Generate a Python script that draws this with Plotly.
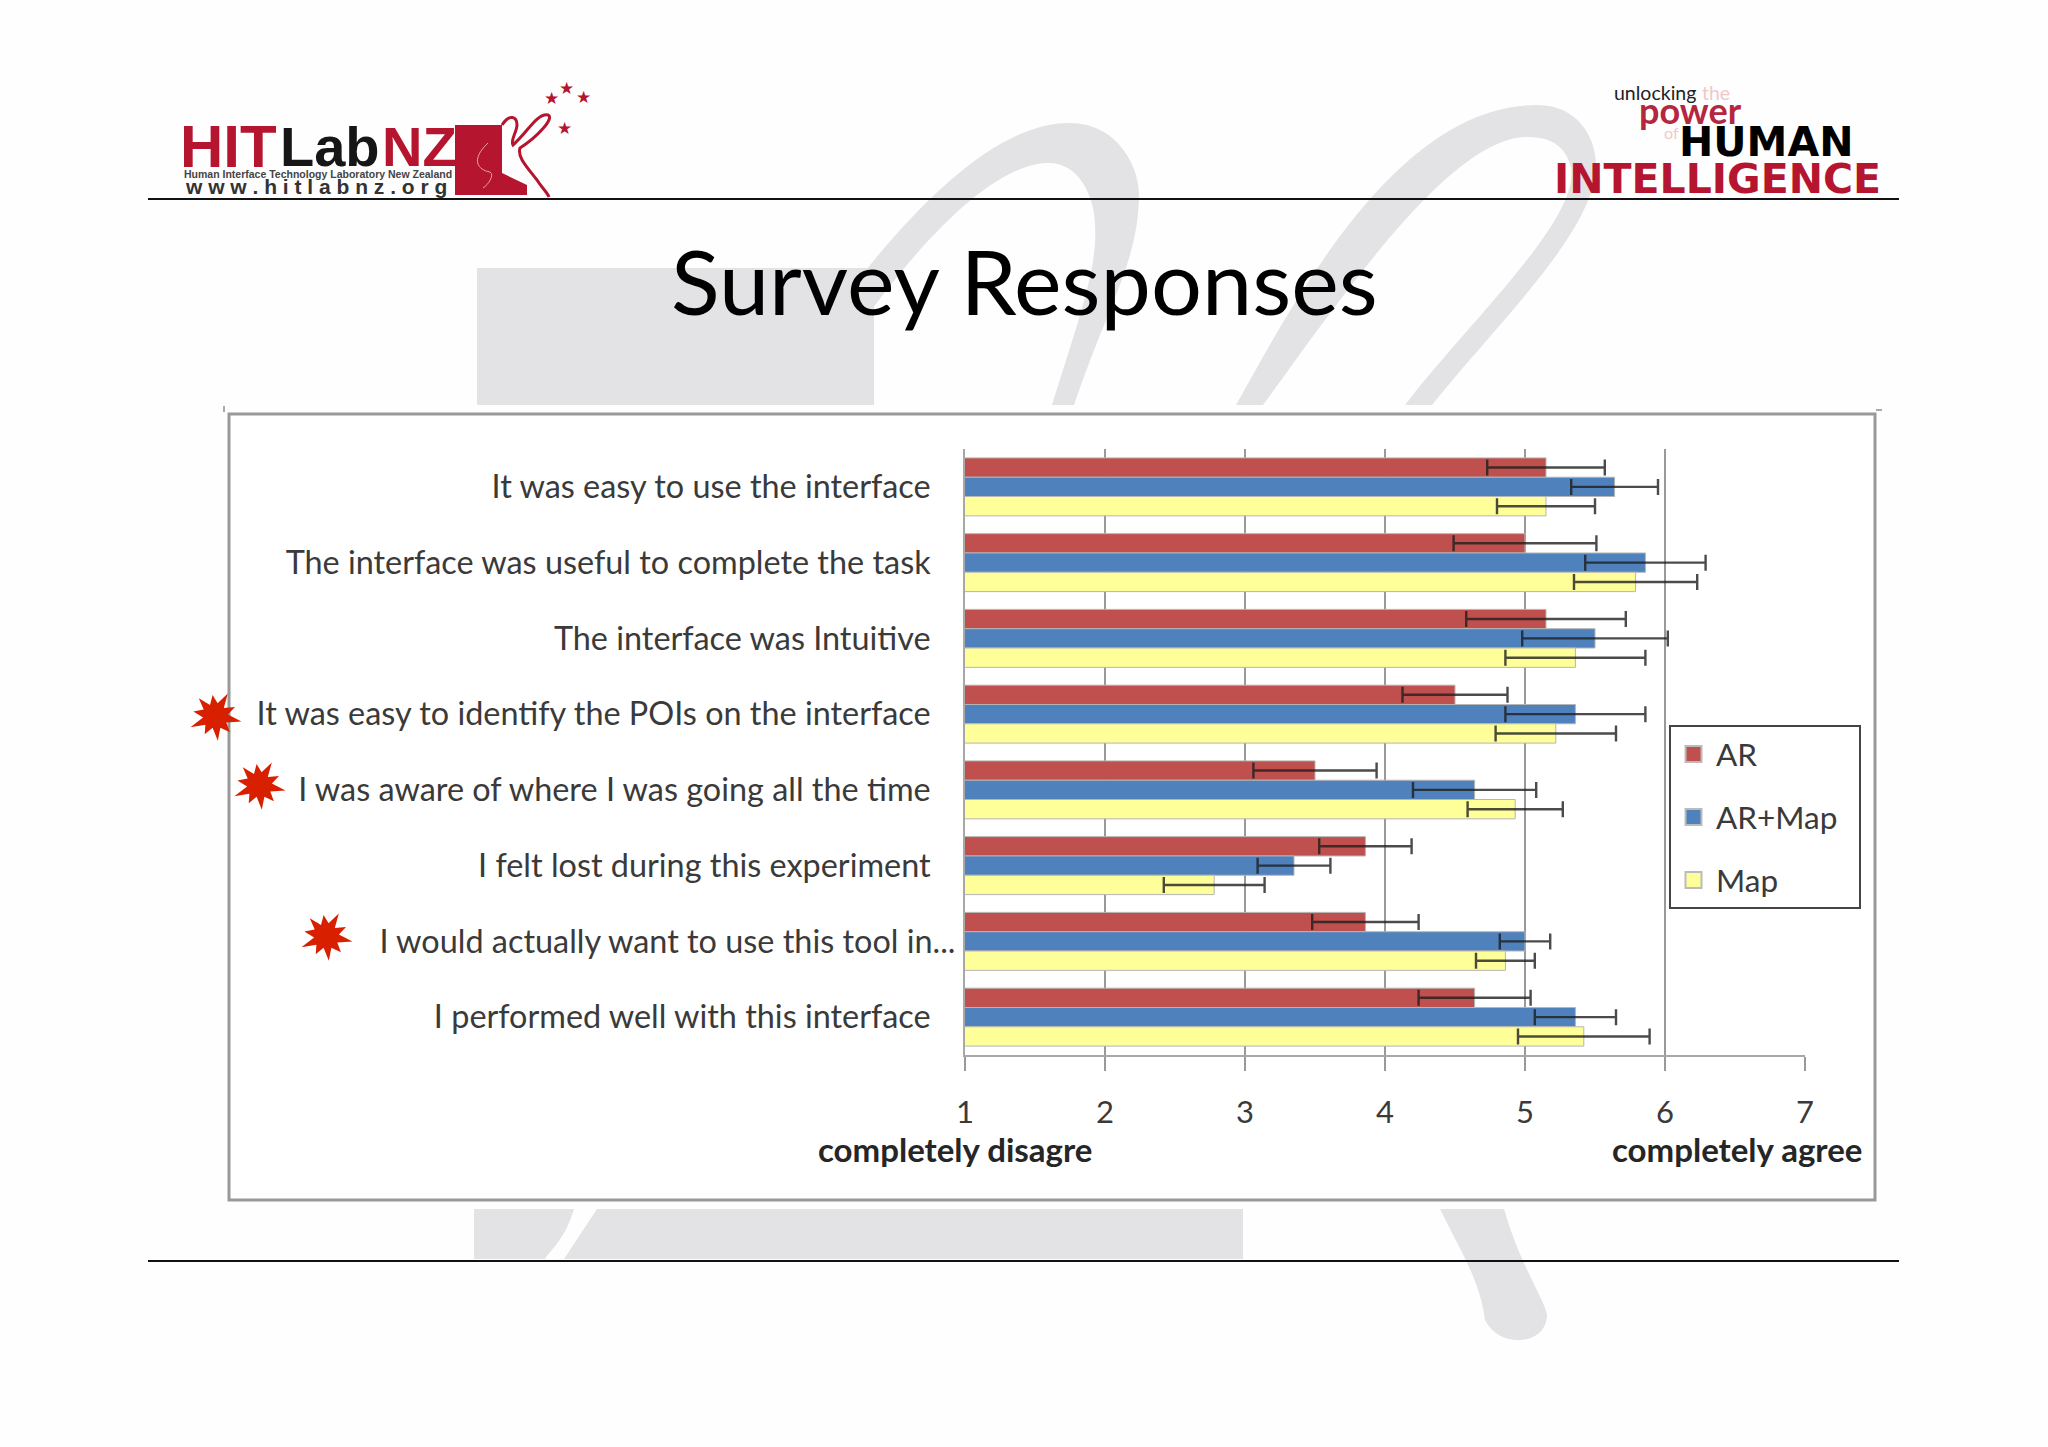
import math
import re
import plotly.graph_objects as go

W, H = 2048, 1447

questions = [
    "It was easy to use the interface",
    "The interface was useful to complete the task",
    "The interface was Intuitive",
    "It was easy to identify the POIs on the interface",
    "I was aware of where I was going all the time",
    "I felt lost during this experiment",
    "I would actually want to use this tool in...",
    "I performed well with this interface",
]
ar_mean = [5.15, 5.0, 5.15, 4.5, 3.5, 3.86, 3.86, 4.64]
ar_err = [0.42, 0.51, 0.57, 0.375, 0.44, 0.33, 0.38, 0.40]
armap_mean = [5.64, 5.86, 5.5, 5.36, 4.64, 3.35, 5.0, 5.36]
armap_err = [0.31, 0.43, 0.52, 0.5, 0.44, 0.26, 0.18, 0.29]
map_mean = [5.15, 5.79, 5.36, 5.22, 4.93, 2.78, 4.86, 5.42]
map_err = [0.35, 0.44, 0.5, 0.43, 0.34, 0.36, 0.21, 0.47]
x_ticks = [1, 2, 3, 4, 5, 6, 7]

AR_COL = "#c0504d"
ARMAP_COL = "#4f81bd"
MAP_COL = "#ffff99"
GREY = "#e3e3e5"
LOGO_RED = "#b5152f"
LABEL_FONT = "Lato"
TEXT_COL = "#3a3a3a"


def fx(x):
    return x / W


def fy(y):
    return 1 - y / H


def px_path(d):
    # path strings below are written in page pixels, shapes want paper units
    return re.sub(
        r"(-?[\d.]+),(-?[\d.]+)",
        lambda m: f"{fx(float(m[1])):.5f},{fy(float(m[2])):.5f}",
        d,
    )


fig = go.Figure()

for name, mean, err, col in [
    ("AR", ar_mean, ar_err, AR_COL),
    ("AR+Map", armap_mean, armap_err, ARMAP_COL),
    ("Map", map_mean, map_err, MAP_COL),
]:
    fig.add_trace(go.Bar(
        y=questions,
        x=mean,
        name=name,
        orientation="h",
        showlegend=False,
        marker=dict(color=col, line=dict(color="#b5b5b5", width=1)),
        error_x=dict(type="data", array=err, color="rgba(30,30,30,0.8)", thickness=2.4, width=8),
    ))
    # bar legend swatches are too small here, so the legend gets its own squares
    # (the nbsp pads the legend box out to its width in the slide)
    fig.add_trace(go.Scatter(
        x=[None],
        y=[None],
        name=name + "\u00a0\u00a0" if name == "AR+Map" else name,
        mode="markers",
        legendgroup=name,
        marker=dict(symbol="square", size=16, color=col, line=dict(color="#bbbbbb", width=2)),
    ))

# every label but the truncated one stops short of the axis
tick_text = [q if q.endswith("...") else q + "\u00a0" * 3 for q in questions]

shapes = [
    dict(type="rect", x0=fx(477), x1=fx(874), y0=fy(268), y1=fy(405)),
    dict(type="path", path=px_path(
        "M820,330 C900,220 990,123 1069,123 C1120,123 1139,170 1139,193 "
        "C1139,260 1110,300 1074,405 L1052,405 C1085,300 1100,260 1094,213 "
        "C1088,180 1070,163 1049,163 C1000,163 930,225 850,340 Z")),
    dict(type="path", path=px_path(
        "M1236,405 C1300,290 1400,105 1537,105 C1580,105 1596,140 1596,165 "
        "C1596,230 1500,320 1432,405 L1405,405 C1470,320 1580,220 1571,167 "
        "C1565,145 1550,137 1527,137 C1450,137 1340,300 1263,405 Z")),
    dict(type="path", path=px_path(
        "M474,1209 L574,1209 C565,1240 550,1250 545,1259 L474,1259 Z")),
    dict(type="path", path=px_path("M597,1209 L1243,1209 L1243,1259 L564,1259 Z")),
    dict(type="path", path=px_path(
        "M1440,1209 L1504,1209 C1520,1265 1545,1300 1547,1315 "
        "C1547,1345 1500,1350 1485,1320 C1480,1280 1460,1250 1440,1209 Z")),
]
for s in shapes:
    s.update(xref="paper", yref="paper", fillcolor=GREY, line_width=0, layer="below")

# white chart panel
shapes.append(dict(
    type="rect", xref="paper", yref="paper", layer="below",
    x0=fx(229), x1=fx(1875), y0=fy(414), y1=fy(1200),
    fillcolor="white", line=dict(color="#999999", width=3),
))

# slide rules and the little corner marks
for x0, y0, x1, y1, col, w in [
    (148, 199, 1899, 199, "#111111", 2),
    (148, 1261, 1899, 1261, "#111111", 2),
    (224, 406, 224, 412, "#aaaaaa", 2),
    (1876, 410, 1882, 410, "#aaaaaa", 2),
]:
    shapes.append(dict(
        type="line", xref="paper", yref="paper", layer="below",
        x0=fx(x0), x1=fx(x1), y0=fy(y0), y1=fy(y1), line=dict(color=col, width=w),
    ))

# HITLab logo guitar
shapes.append(dict(
    type="path", xref="paper", yref="paper", fillcolor=LOGO_RED, line_width=0,
    path=px_path("M455,125 L502,125 L502,173 L527,185 L527,195 L455,195 Z"),
))
shapes.append(dict(
    type="path", xref="paper", yref="paper", line=dict(color=LOGO_RED, width=3),
    path=px_path(
        "M502,125 C510,113 517,117 517,125 C517,132 510,140 513,145 "
        "C527,133 537,113 548,115 C555,118 537,137 520,148 "
        "C517,157 527,167 537,180 C542,188 547,192 549,197"),
))
shapes.append(dict(
    type="path", xref="paper", yref="paper", line=dict(color="#e8a0a8", width=1),
    path=px_path("M488,143 C470,160 478,170 490,172 C495,175 488,185 483,188"),
))

# red bursts next to the highlighted questions
burst_radii = [27, 13, 22, 13, 25, 12, 21, 13, 27, 12, 22, 13, 24, 12, 21, 13, 26, 12, 22, 13]
for cx, cy in [(215, 716), (259, 785), (326, 936)]:
    pts = []
    for i, r in enumerate(burst_radii):
        a = 2 * math.pi * i / len(burst_radii) + 0.2
        pts.append(f"{cx + r * math.cos(a):.1f},{cy + r * math.sin(a):.1f}")
    shapes.append(dict(
        type="path", xref="paper", yref="paper", fillcolor="#d82000", line_width=0,
        path=px_path("M" + " L".join(pts) + " Z"),
    ))

anns = []


def note(text, x, y, size, color="#000000", font=LABEL_FONT, anchor="center"):
    anns.append(dict(
        text=text, x=fx(x), y=fy(y), xref="paper", yref="paper",
        xanchor=anchor, yanchor="middle", showarrow=False,
        font=dict(family=font, size=size, color=color),
    ))


note("Survey Responses", 1024, 280, 90)
note("<b>completely disagre</b>", 955, 1149, 33, "#262626")
note("<b>completely agree</b>", 1737, 1149, 33, "#262626")

# left logo
note("<b>HIT</b>", 178, 146, 60, LOGO_RED, "Liberation Sans", "left")
note("<b>Lab</b>", 278, 146, 56, "#161616", "Liberation Sans", "left")
note("<b>NZ</b>", 380, 146, 56, LOGO_RED, "Liberation Sans", "left")
note("<b>Human Interface Technology Laboratory New Zealand</b>", 182, 174, 10.5, "#444444", "Liberation Sans", "left")
note("<b>w w w . h i t l a b n z . o r g</b>", 183, 186, 21, "#333333", "Liberation Sans", "left")
for sx, sy in [(551, 98), (566, 88), (583, 97), (564, 128)]:
    note("★", sx, sy, 17, LOGO_RED, "DejaVu Sans")

# right logo
note("unlocking", 1612, 92, 19.5, "#222222", LABEL_FONT, "left")
note("the", 1700, 92, 19.5, "#f0c8c8", LABEL_FONT, "left")
note("<b>power</b>", 1637, 110, 36, "#b5263f", LABEL_FONT, "left")
note("of", 1662, 133, 16, "#f0c8c8", LABEL_FONT, "left")
note("<b>HUMAN</b>", 1677, 142, 41, "#000000", "DejaVu Sans", "left")
note("<b>INTELLIGENCE</b>", 1552, 179, 41, LOGO_RED, "DejaVu Sans", "left")

fig.update_layout(
    width=W,
    height=H,
    margin=dict(l=0, r=0, t=0, b=0, autoexpand=False),
    paper_bgcolor="#fefefe",
    plot_bgcolor="rgba(0,0,0,0)",
    barmode="group",
    bargap=0.235,
    bargroupgap=0,
    shapes=shapes,
    annotations=anns,
    font=dict(family=LABEL_FONT, color=TEXT_COL),
    xaxis=dict(
        domain=[fx(965), fx(1805)],
        range=[1, 7],
        tickvals=x_ticks,
        ticks="outside",
        ticklen=14,
        tickcolor="#999999",
        tickwidth=2,
        ticklabelstandoff=15,
        tickfont=dict(size=31, color=TEXT_COL),
        showgrid=True,
        gridcolor="#999999",
        gridwidth=2,
        showline=True,
        linecolor="#a8a8a8",
        linewidth=2,
        zeroline=False,
    ),
    yaxis=dict(
        domain=[fy(1055), fy(449)],
        categoryorder="array",
        categoryarray=questions,
        autorange="reversed",
        tickvals=questions,
        ticktext=tick_text,
        ticks="",
        ticklabelstandoff=1,
        tickfont=dict(size=32.4, color=TEXT_COL),
        showgrid=False,
        showline=True,
        linecolor="#a8a8a8",
        linewidth=2,
        zeroline=False,
    ),
    legend=dict(
        x=fx(1669),
        y=fy(725),
        xanchor="left",
        yanchor="top",
        bgcolor="white",
        bordercolor="#444444",
        borderwidth=2,
        traceorder="grouped",
        tracegroupgap=19,
        itemclick=False,
        itemwidth=35,
        font=dict(size=31.5, color=TEXT_COL),
    ),
)

fig.write_html(
    "out.html",
    config={"displayModeBar": False},
    post_script="document.body.style.margin='0';",
)
